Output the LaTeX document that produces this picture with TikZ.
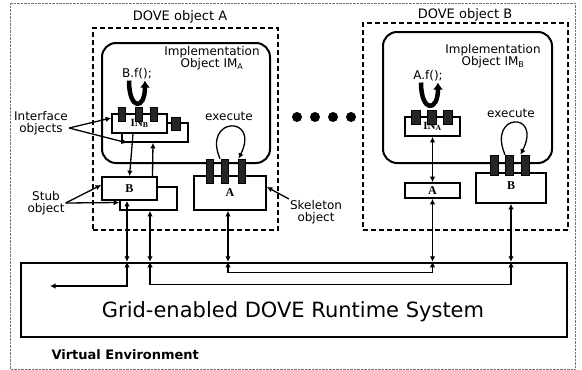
\documentclass[tikz,border=0pt]{standalone}
\usepackage{fontspec}
\setmainfont{DejaVu Sans}
\newfontfamily\boxfont{Liberation Serif}
\usetikzlibrary{arrows.meta}

\begin{document}
\begin{tikzpicture}[x=1pt,y=-1pt,>={Latex[length=5.5pt,width=5.5pt]}]
  \useasboundingbox (0,0) rectangle (582,370);
  \tikzset{
    dovebox/.style={draw=black,line width=2pt,dash pattern=on 5pt off 3pt,inner sep=0pt},
    implbox/.style={draw=black,line width=2pt,rounded corners=14pt,inner sep=0pt},
    objbox/.style={draw=black,fill=white,line width=1.7pt,inner sep=0pt,font=\boxfont\bfseries\fontsize{12}{12}\selectfont},
    bar/.style={draw=black,fill=black!85,line width=0.6pt,inner sep=0pt},
    lab/.style={font=\fontsize{12}{12}\selectfont,inner sep=1pt,align=center},
    link/.style={line width=1.6pt,<->},
    route/.style={line width=1.2pt,<->},
    pointer/.style={line width=1.3pt,->},
    ucall/.style={line width=4.5pt,-{Latex[length=7pt,width=10pt]}}
  }
  \draw[densely dotted,black!55] (10,3) rectangle (575,369);

  % DOVE object A
  \node[dovebox,minimum width=185pt,minimum height=202pt] (doveA) at (185.5,129) {};
  \node[lab,font=\fontsize{13}{13}\selectfont] (doveAtitle) at (180,17) {DOVE object A};
  \node[implbox,minimum width=168pt,minimum height=120pt] (implA) at (186,103) {};
  \node[lab] (imlabA) at (212,58) {Implementation\\Object IM\textsubscript{A}};
  \node[lab] (callA) at (137,74) {B.f();};
  \draw[ucall] ([xshift=-8pt]callA.south) .. controls +(0,30) and +(0,30) .. ([xshift=8pt]callA.south);
  \node[objbox,minimum width=66pt,minimum height=19pt] (inBback) at (155,132.5) {};
  \node[objbox,minimum width=55pt,minimum height=19pt,font=\boxfont\bfseries\fontsize{11}{11}\selectfont] (inB) at (139.5,123.5) {\raisebox{-2pt}{IN\textsubscript{B}}};
  \foreach \x [count=\i] in {121.5,138.5,153.5}
    \node[bar,minimum width=7pt,minimum height=14pt] (inBbar\i) at (\x,114) {};
  \node[bar,minimum width=9pt,minimum height=13pt] (inBbar4) at (175.5,123.5) {};
  \node[objbox,minimum width=57pt,minimum height=23pt] (stubBback) at (148.5,198.5) {};
  \node[objbox,minimum width=55pt,minimum height=23pt] (stubB) at (129.5,188.5) {B};
  \node[objbox,minimum width=72pt,minimum height=34pt] (skelA) at (230,193) {\raisebox{-6pt}{A}};
  \foreach \x [count=\i] in {210,225,241.5}
    \node[bar,minimum width=7pt,minimum height=24pt] (skAbar\i) at (\x,171) {};
  \node[lab] (execA) at (229,116) {execute};
  \draw[pointer] ([xshift=-5pt]skAbar2.north) .. controls +(-18,-42) and +(22,-44) .. ([xshift=-3pt]skAbar3.north);
  \draw[pointer] ([xshift=-6.5pt]inB.south) -- (stubB.north);
  \draw[pointer] ([xshift=23pt]stubB.north) -- ([xshift=-2pt]inBback.south);

  % labels on the left and right of object A
  \node[lab] (ifLabel) at (41,123) {Interface\\objects};
  \draw[pointer] ([yshift=-5pt]ifLabel.east) -- ([yshift=5.5pt]inB.west);
  \draw[pointer] ([yshift=-5pt]ifLabel.east) -- ([xshift=6pt]inBback.south west);
  \node[lab] (stubLabel) at (46,203) {Stub\\object};
  \draw[pointer] (stubLabel.east) -- ([yshift=3.5pt]stubB.west);
  \draw[pointer] (stubLabel.east) -- ([yshift=-4pt]stubBback.west);
  \node[lab] (skLabel) at (316,212) {Skeleton\\object};
  \draw[pointer] (skLabel.north west) -- ([yshift=6pt]skelA.east);

  \foreach \x in {297,315,333,351}
    \fill (\x,117) circle (5pt);

  % DOVE object B
  \node[dovebox,minimum width=205pt,minimum height=207pt] (doveB) at (465.5,126.5) {};
  \node[lab,font=\fontsize{13}{13}\selectfont] (doveBtitle) at (465,15) {DOVE object B};
  \node[implbox,minimum width=169pt,minimum height=131pt] (implB) at (467.5,97.5) {};
  \node[lab] (imlabB) at (493,56) {Implementation\\Object IM\textsubscript{B}};
  \node[lab] (callB) at (428,76) {A.f();};
  \draw[ucall] ([xshift=-7pt]callB.south) .. controls +(0,30) and +(0,30) .. ([xshift=10pt]callB.south);
  \node[objbox,minimum width=55pt,minimum height=19pt,font=\boxfont\bfseries\fontsize{11}{11}\selectfont] (inA) at (432.5,126.5) {\raisebox{-2pt}{IN\textsubscript{A}}};
  \foreach \x [count=\i] in {416,432,448}
    \node[bar,minimum width=9pt,minimum height=14pt] (inAbar\i) at (\x,117.5) {};
  \node[objbox,minimum width=55pt,minimum height=15pt] (stubA) at (432.5,190.5) {A};
  \node[objbox,minimum width=70pt,minimum height=30pt] (skelB) at (511,188) {\raisebox{4pt}{B}};
  \foreach \x [count=\i] in {494,509,525.5}
    \node[bar,minimum width=8pt,minimum height=20pt] (skBbar\i) at (\x,165) {};
  \node[lab] (execB) at (511,113) {execute};
  \draw[pointer] ([xshift=-4pt]skBbar2.north) .. controls +(-18,-42) and +(22,-44) .. ([xshift=-5pt]skBbar3.north);
  \draw[link] (inA.south) -- (stubA.north);

  % runtime system
  \node[draw=black,line width=2.4pt,minimum width=546pt,minimum height=74pt,inner sep=0pt] (runtime) at (294,300) {};
  \node[font=\fontsize{21}{21}\selectfont] (rtlabel) at (293,312) {Grid-enabled DOVE Runtime System};
  \node[anchor=west,font=\bfseries\fontsize{13}{13}\selectfont] (venv) at (48,355) {Virtual Environment};

  \coordinate (s1) at ([xshift=-2.5pt]stubB.south);
  \coordinate (s2) at ([xshift=1.5pt]stubBback.south);
  \coordinate (s3) at ([xshift=-2pt]skelA.south);
  \coordinate (t1) at (s1 |- runtime.north);
  \coordinate (t2) at (s2 |- runtime.north);
  \coordinate (t3) at (s3 |- runtime.north);
  \coordinate (t4) at (stubA.south |- runtime.north);
  \coordinate (t5) at (skelB.south |- runtime.north);
  \coordinate (exit) at (50,286);
  \draw[link] (s1) -- (t1);
  \draw[link] (s2) -- (t2);
  \draw[link] (s3) -- (t3);
  \draw[link] (stubA.south) -- (t4);
  \draw[link] (skelB.south) -- (t5);
  \draw[route] (t1) |- (exit);
  \draw[route] (t2) -- ++(0,23) -| (t5);
  \draw[route] (t3) -- ++(0,11) -| (t4);
\end{tikzpicture}
\end{document}
